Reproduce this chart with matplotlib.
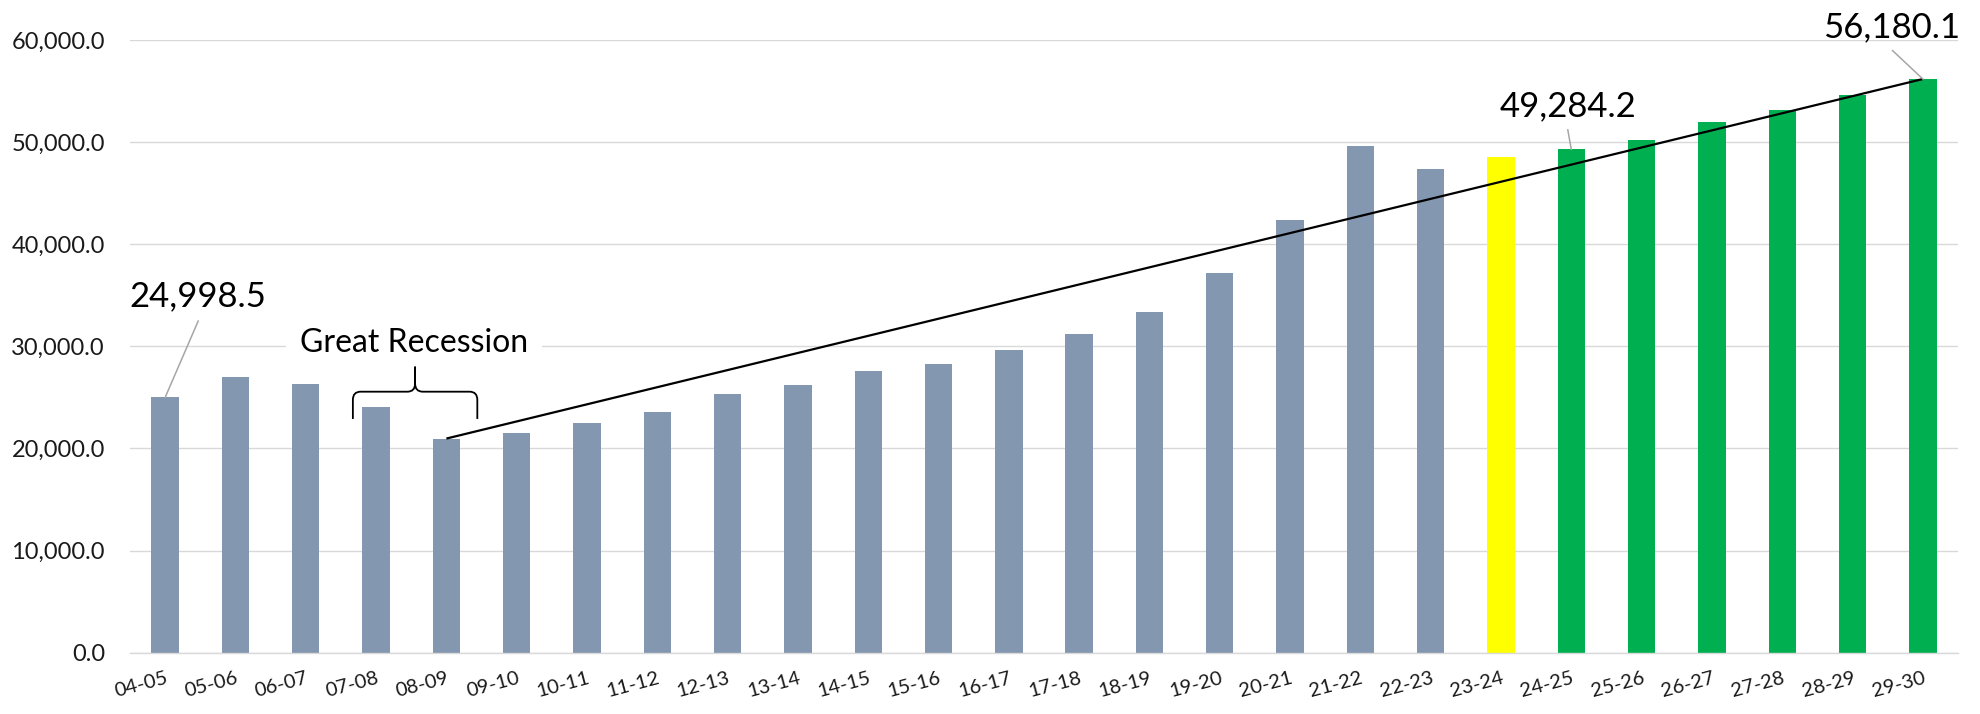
import matplotlib
matplotlib.use("Agg")
import matplotlib.pyplot as plt
from matplotlib.path import Path
from matplotlib.patches import PathPatch

plt.rcParams["font.family"] = ["Lato", "DejaVu Sans"]

# ---------------- data ----------------
categories = ["04-05", "05-06", "06-07", "07-08", "08-09", "09-10", "10-11",
              "11-12", "12-13", "13-14", "14-15", "15-16", "16-17", "17-18",
              "18-19", "19-20", "20-21", "21-22", "22-23", "23-24", "24-25",
              "25-26", "26-27", "27-28", "28-29", "29-30"]
values = [24998.5, 26990, 26360, 24040, 20970, 21500, 22530, 23550, 25290,
          26190, 27610, 28280, 29620, 31180, 33410, 37200, 42380, 49610,
          47330, 48530, 49284.2, 50230, 51970, 53130, 54600, 56180.1]
# kind of each bar: actual, estimate, projection
kinds = ["actual"] * 19 + ["estimate"] + ["projection"] * 6
y_ticks = [0, 10000, 20000, 30000, 40000, 50000, 60000]

kind_colors = {"actual": "#8497B0", "estimate": "#FFFF00", "projection": "#00B050"}

# labelled bars
labelled = [0, 20, 25]
trend_start, trend_end = 4, 25

# ---------------- figure ----------------
W, H = 1980, 714
fig = plt.figure(figsize=(W / 100, H / 100), dpi=100)
left_px, right_px, top_px, bottom_px = 130, 1958, 40, 652.7
ax = fig.add_axes([left_px / W, 1 - bottom_px / H,
                   (right_px - left_px) / W, (bottom_px - top_px) / H])

x = list(range(len(categories)))
ax.bar(x, values, width=0.39, color=[kind_colors[k] for k in kinds], zorder=2)

ax.set_xlim(-0.5, len(categories) - 0.5)
ax.set_ylim(y_ticks[0], y_ticks[-1])
ax.set_yticks(y_ticks)
ax.set_yticklabels([f"{v:,.1f}" for v in y_ticks], fontsize=17, color="#1a1a1a")
ax.set_xticks(x)
ax.set_xticklabels(categories, rotation=15, ha="right", rotation_mode="anchor",
                   fontsize=14.5, color="#1a1a1a")
ax.tick_params(axis="both", length=0)
ax.tick_params(axis="y", pad=18)
ax.tick_params(axis="x", pad=12)
ax.yaxis.grid(True, color="#D9D9D9", lw=1.0, zorder=0)
ax.set_axisbelow(True)
for s in ["left", "right", "top"]:
    ax.spines[s].set_visible(False)
ax.spines["bottom"].set_color("#D9D9D9")
ax.spines["bottom"].set_linewidth(1.0)

# trend line
ax.plot([x[trend_start], x[trend_end]], [values[trend_start], values[trend_end]],
        color="black", lw=1.6, zorder=4, solid_capstyle="butt")

# value labels with leader lines (text position, leader start)
label_pos = {0: (0.47, 33930, 0.47, 32480),
             20: (19.96, 52500, 19.95, 51200),
             25: (24.56, 60270, 24.57, 58960)}
for i in labelled:
    tx, ty, lx, ly = label_pos[i]
    ax.text(tx, ty, f"{values[i]:,.1f}", ha="center", va="baseline",
            fontsize=25, color="black", zorder=6, clip_on=False)
    ax.plot([lx, x[i]], [ly, values[i]], color="#A6A6A6", lw=1.1, zorder=5,
            clip_on=False)

# Great Recession label and brace
ax.text(3.54, 29480, "Great Recession", ha="center", va="baseline", fontsize=23,
        color="black", zorder=6,
        bbox=dict(boxstyle="square,pad=0.45", fc="white", ec="none"))

bx0, bx1 = 2.67, 4.44
bxm = (bx0 + bx1) / 2
y_end, y_mid, y_tip = 22890, 25560, 28010
rx, ry = 0.11, 800
verts = [(bx0, y_end), (bx0, y_mid - ry), (bx0, y_mid), (bx0 + rx, y_mid),
         (bxm - rx, y_mid), (bxm, y_mid), (bxm, y_mid + ry), (bxm, y_tip),
         (bx1, y_end), (bx1, y_mid - ry), (bx1, y_mid), (bx1 - rx, y_mid),
         (bxm + rx, y_mid), (bxm, y_mid), (bxm, y_mid + ry), (bxm, y_tip)]
codes = [Path.MOVETO, Path.LINETO, Path.CURVE3, Path.CURVE3,
         Path.LINETO, Path.CURVE3, Path.CURVE3, Path.LINETO] * 2
ax.add_patch(PathPatch(Path(verts, codes), fc="none", ec="black", lw=1.3, zorder=6))

fig.savefig("out.png", dpi=100, facecolor="white")
